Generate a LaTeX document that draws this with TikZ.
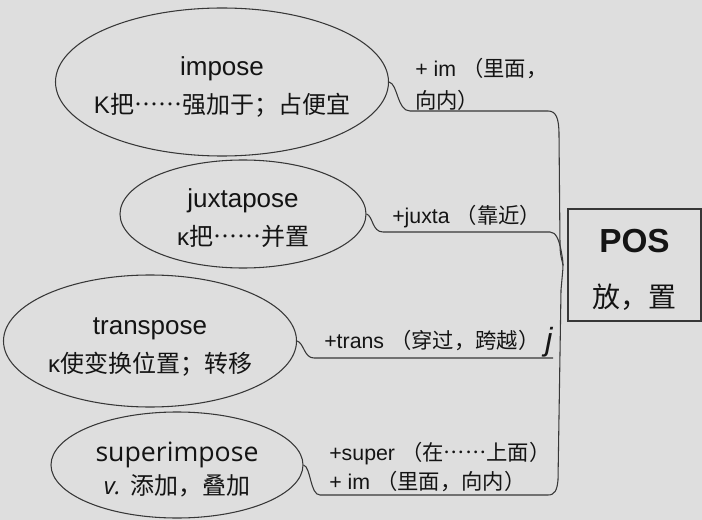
\documentclass[tikz,border=0pt]{standalone}
\usepackage{fontspec}
\setmainfont{Liberation Sans}
\newfontfamily\cjk{Noto Sans CJK SC}
\newfontfamily\cjkwide{Noto Sans CJK SC}[Script=CJK,RawFeature=+fwid]
\newfontfamily\opensans{Open Sans}
\usetikzlibrary{shapes.geometric,calc}
\definecolor{paper}{RGB}{222,222,222}
\definecolor{ink}{RGB}{20,20,20}
\definecolor{wire}{RGB}{55,55,55}
\newcommand{\zh}[1]{{\cjk #1}}
\newcommand{\sixdots}{{\cjkwide ……}}
\newcommand{\gloss}[1]{{\fontsize{18}{28}\selectfont #1}}
\tikzset{
	word/.style={ellipse, draw=wire, line width=0.8pt, align=center, inner xsep=-15pt, inner ysep=0pt, text=ink, text height=49.5pt, font=\fontsize{19.5}{28.5}\selectfont},
	branch/.style={draw=wire, line width=0.8pt},
	affix/.style={anchor=west, inner sep=0pt, align=left, text=ink, font=\fontsize{16}{24}\selectfont},
}

\begin{document}
\begin{tikzpicture}[x=0.75pt,y=0.75pt,yscale=-1,xscale=1]
	%set diagram to 702 x 520
	\fill[paper] (0,0) rectangle (702,520);
	\useasboundingbox (0,0) rectangle (702,520);
	
	% Root Box
	\node [draw=wire, line width=1.1pt, minimum width=99.75pt, minimum height=84pt, align=center, inner sep=0pt, text=ink, text height=66pt, font=\fontsize{25}{41}\selectfont\bfseries] (pos) at (634.5,265) {POS\\{\cjk\mdseries\fontsize{21}{41}\selectfont 放，置}};
	\coordinate (hub) at (563,265);
	
	% Ellipses
	\node [word, minimum width=249.75pt, minimum height=111pt] (impose) at (222,82) {impose\\\gloss{K\zh{把\sixdots 强加于；占便宜}}};
	\node [word, minimum width=184.5pt, minimum height=81pt] (juxta) at (243,214) {juxtapose\\\gloss{κ\zh{把\sixdots 并置}}};
	\node [word, minimum width=219.75pt, minimum height=99pt] (trans) at (150,341) {transpose\\\gloss{κ\zh{使变换位置；转移}}};
	\node [word, minimum width=189pt, minimum height=79.5pt, text height=46pt, font=\opensans\fontsize{20}{25}\selectfont] (superimp) at (177,465) {superimpose\\{\fontsize{18}{25}\selectfont\itshape v.} {\fontsize{18}{25}\selectfont\zh{添加，叠加}}};
	
	% Text Node
	\node [affix] (imlbl) at (415,84) {+ im \zh{（里面，}\\\zh{向内）}};
	% Text Node
	\node [affix] (juxlbl) at (392,217) {+juxta \zh{（靠近）}};
	% Text Node
	\node [affix] (trslbl) at (324,341) {+trans \zh{（穿过，跨越）}};
	% Text Node
	\node [inner sep=0pt, text=ink, font=\fontsize{24}{26}\selectfont\itshape] (jmark) at (549,342) {j};
	% Text Node
	\node [affix, font=\fontsize{16}{22}\selectfont] (suplbl) at (329,467) {+super \zh{（在\sixdots 上面）}\\+ im \zh{（里面，向内）}};
	
	%Underline
	\draw [branch] ($(trslbl.base west)+(0,5)$) -- ($(trslbl.base west)+(0,5)$ -| jmark.east);
	
	%Curve Lines
	\draw [branch] (impose.east) .. controls (398,84) and (397,111) .. (410,111) -- (548,111) .. controls (556,111) and (559,118) .. (559,135) -- (560,245) .. controls (560,255) and (562,260) .. (hub);
	%Curve Lines
	\draw [branch] (juxta.east) .. controls (373,216) and (372,232) .. (383,232) -- (550,232) .. controls (556,232) and (559,240) .. (561,250) .. controls (562,256) and (563,260) .. (hub);
	%Curve Lines
	\coordinate (tend) at (553,358);
	\draw [branch] (trans.east) .. controls (304,343) and (304,358) .. (314,358) -- (tend);
	%Curve Lines
	\draw [branch] (superimp.east) .. controls (311,467) and (310,495) .. (320,495) -- (548,495) .. controls (555,495) and (557,490) .. (558,480) -- (561,290) .. controls (562,278) and (563,270) .. (hub);
	
\end{tikzpicture}
\end{document}
